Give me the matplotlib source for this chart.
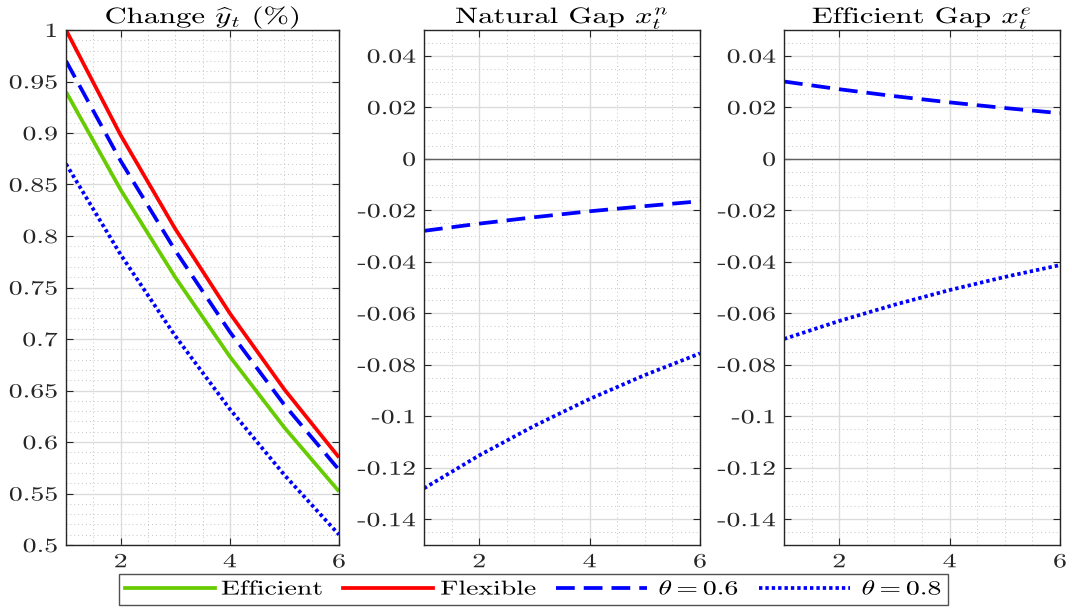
import matplotlib
matplotlib.use("Agg")
import numpy as np
import matplotlib.pyplot as plt
from matplotlib.ticker import MultipleLocator, FuncFormatter
from matplotlib.lines import Line2D
from matplotlib.patheffects import AbstractPathEffect
from matplotlib.transforms import Affine2D

plt.rcParams['mathtext.fontset'] = 'cm'
plt.rcParams['font.family'] = ['cmr10', 'DejaVu Serif']
plt.rcParams['axes.unicode_minus'] = False
plt.rcParams['axes.formatter.use_mathtext'] = False

periods = [1, 2, 3, 4, 5, 6]

# Panel 1: Change in output (%)
y_efficient = [0.94, 0.845, 0.760, 0.683, 0.614, 0.552]
y_flexible = [1.00, 0.898, 0.807, 0.725, 0.651, 0.585]
y_theta06 = [0.97, 0.873, 0.786, 0.707, 0.636, 0.573]
y_theta08 = [0.87, 0.782, 0.703, 0.632, 0.568, 0.510]

# Panel 2: Natural gap
xn_theta06 = [-0.0280, -0.0252, -0.0227, -0.0204, -0.0184, -0.0165]
xn_theta08 = [-0.1280, -0.1152, -0.1037, -0.0933, -0.0840, -0.0756]

# Panel 3: Efficient gap
xe_theta06 = [0.0300, 0.0270, 0.0243, 0.0219, 0.0197, 0.0177]
xe_theta08 = [-0.0700, -0.0630, -0.0567, -0.0510, -0.0459, -0.0413]

titles = [r'Change $\widehat{y}_t$ (%)', r'Natural Gap $x_t^n$', r'Efficient Gap $x_t^e$']
legend_labels = ['Efficient', 'Flexible', r'$\theta = 0.6$', r'$\theta = 0.8$']

GREEN = '#66cc00'
RED = '#ff0000'
BLUE = '#0000ff'
LW = 2.7
DASH = (0, (5, 2.4))
DOT = (0, (0.9, 0.8))
FS = 14.5
FS_TITLE = 16
SX = 1.38


class HStretch(AbstractPathEffect):
    """Draw text glyphs widened horizontally (the reference text is wide)."""

    def __init__(self, sx=SX, anchor='center'):
        super().__init__()
        self.sx = sx
        self.anchor = anchor

    def draw_path(self, renderer, gc, tpath, affine, rgbFace=None):
        if len(tpath.vertices) == 0:
            return
        ext = tpath.get_extents(affine)
        if self.anchor == 'left':
            x0 = affine.get_matrix()[0, 2]
        elif self.anchor == 'right':
            x0 = ext.x1
        else:
            x0 = 0.5 * (ext.x0 + ext.x1)
        st = affine + Affine2D().translate(-x0, 0).scale(self.sx, 1).translate(x0, 0)
        renderer.draw_path(gc, tpath, st, rgbFace)


fig = plt.figure(figsize=(10.72, 6.08), dpi=100)
W, H = 1072, 608
boxes = [(66, 30, 339, 545), (424, 30, 700, 545), (784, 30, 1060, 545)]
axes = []
for (l, t, r, b) in boxes:
    ax = fig.add_axes([l / W, 1 - b / H, (r - l) / W, (b - t) / H])
    axes.append(ax)


def fmt(v, pos):
    s = ('%.2f' % v).rstrip('0').rstrip('.')
    if s in ('-0', ''):
        s = '0'
    return s


for ax in axes:
    ax.set_xlim(1, 6)
    ax.xaxis.set_major_locator(MultipleLocator(2))
    ax.xaxis.set_minor_locator(MultipleLocator(0.5))
    ax.grid(which='major', color='#dcdcdc', linewidth=1.0, linestyle='-')
    ax.grid(which='minor', color='#c4c4c4', linewidth=0.7, linestyle=(0, (1, 3)))
    ax.set_axisbelow(True)
    ax.tick_params(which='major', direction='in', length=5, top=True, right=True,
                   labelsize=FS, color='#262626', labelcolor='#262626', pad=6)
    ax.tick_params(which='minor', length=0)
    for s in ax.spines.values():
        s.set_color('#262626')
        s.set_linewidth(1.0)
    ax.yaxis.set_major_formatter(FuncFormatter(fmt))
    ax.xaxis.set_major_formatter(FuncFormatter(fmt))

ax1, ax2, ax3 = axes
ax1.plot(periods, y_efficient, color=GREEN, lw=LW, solid_capstyle='butt')
ax1.plot(periods, y_flexible, color=RED, lw=LW, solid_capstyle='butt')
ax1.plot(periods, y_theta06, color=BLUE, lw=LW, linestyle=DASH, dash_capstyle='butt')
ax1.plot(periods, y_theta08, color=BLUE, lw=LW, linestyle=DOT, dash_capstyle='butt')
ax1.set_ylim(0.5, 1.0)
ax1.yaxis.set_major_locator(MultipleLocator(0.05))
ax1.yaxis.set_minor_locator(MultipleLocator(0.01))

for ax, a, b in [(ax2, xn_theta06, xn_theta08), (ax3, xe_theta06, xe_theta08)]:
    ax.axhline(0, color='#606060', lw=1.0, zorder=1.5)
    ax.plot(periods, a, color=BLUE, lw=LW, linestyle=DASH, dash_capstyle='butt')
    ax.plot(periods, b, color=BLUE, lw=LW, linestyle=DOT, dash_capstyle='butt')
    ax.set_ylim(-0.15, 0.05)
    ax.yaxis.set_major_locator(MultipleLocator(0.02))
    ax.yaxis.set_minor_locator(MultipleLocator(0.005))

for ax, t in zip(axes, titles):
    ttl = ax.set_title(t, fontsize=FS_TITLE, pad=5)
    ttl.set_path_effects([HStretch(anchor='center')])
    for tk in ax.yaxis.get_major_ticks():
        tk.label1.set_path_effects([HStretch(anchor='right')])
    for tk in ax.xaxis.get_major_ticks():
        tk.label1.set_path_effects([HStretch(anchor='center')])

handles = [
    Line2D([], [], color=GREEN, lw=LW),
    Line2D([], [], color=RED, lw=LW),
    Line2D([], [], color=BLUE, lw=LW, linestyle=DASH, dash_capstyle='butt'),
    Line2D([], [], color=BLUE, lw=LW, linestyle=DOT, dash_capstyle='butt'),
]
leg = fig.legend(handles, legend_labels, loc='center', ncol=4,
                 bbox_to_anchor=(533.5 / W, 1 - 589.5 / H), fontsize=FS,
                 frameon=True, fancybox=False, edgecolor='#262626',
                 handlelength=4.5, handletextpad=1.65, columnspacing=1.0,
                 borderpad=0.3, borderaxespad=0)
leg.get_frame().set_linewidth(1.0)
for txt in leg.get_texts():
    txt.set_path_effects([HStretch(anchor='right')])

fig.savefig('out.png', dpi=100)
